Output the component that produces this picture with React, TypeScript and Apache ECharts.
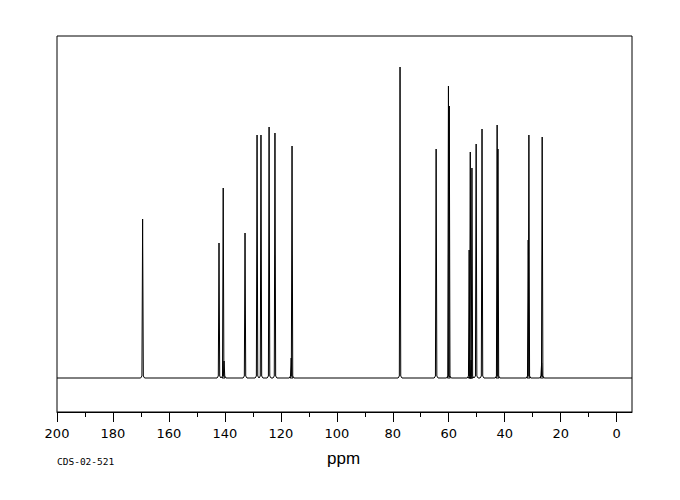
import React, { useEffect, useRef } from "react";
import * as echarts from "echarts";

// Peak positions (ppm) and intensities (arbitrary units, baseline = 0)
const peakPpm = [169.4, 142.1, 140.6, 140.3, 132.8, 128.5, 127.1, 124.2, 122.1, 116.3, 116.0, 77.4, 64.5, 60.1, 59.8, 52.7, 52.3, 52.0, 51.7, 50.2, 48.1, 42.7, 42.4, 31.6, 31.35, 26.8, 26.6];
const peakHeight = [159, 135, 190, 17, 145, 243, 243, 251, 245, 20, 232, 311, 229, 292, 272, 128, 226, 18, 210, 234, 249, 253, 229, 138, 243, 15, 241];
const majorTicks = [0, 20, 40, 60, 80, 100, 120, 140, 160, 180, 200];
const minorTicks = [10, 30, 50, 70, 90, 110, 130, 150, 170, 190];
const xMin = -5.5;
const xMax = 200;
const sampleId = "CDS-02-521";
const axisName = "ppm";

export default function App() {
  const ref = useRef<HTMLDivElement>(null);
  useEffect(() => {
    if (!ref.current) return;
    const chart = echarts.init(ref.current, null, { renderer: "svg" });
    const order = peakPpm.map((p, i) => i).sort((a, b) => peakPpm[b] - peakPpm[a]);
    const data: number[][] = [[xMax, 0]];
    order.forEach((i) => {
      const p = peakPpm[i];
      const h = peakHeight[i];
      data.push([p + 0.7, 0], [p + 0.25, 2], [p, h], [p - 0.25, 2], [p - 0.7, 0]);
    });
    data.push([xMin, 0]);
    chart.setOption({
      animation: false,
      backgroundColor: "#fff",
      grid: {
        left: 57,
        right: 48,
        top: 36,
        bottom: 88,
        show: true,
        borderColor: "#000",
        borderWidth: 1,
        containLabel: false,
        outerBoundsMode: "none",
      },
      xAxis: [
        {
          type: "value",
          inverse: true,
          min: xMin,
          max: xMax,
          position: "bottom",
          axisLine: { show: true, onZero: false, lineStyle: { color: "#000", width: 1 } },
          axisTick: { show: true, customValues: majorTicks, length: 10, inside: false, lineStyle: { color: "#000" } },
          axisLabel: {
            show: true,
            customValues: majorTicks,
            margin: 15,
            fontSize: 13,
            fontFamily: "DejaVu Sans",
            color: "#000",
          },
          splitLine: { show: false },
        },
        {
          type: "value",
          inverse: true,
          min: xMin,
          max: xMax,
          position: "bottom",
          axisLine: { show: false, onZero: false },
          axisTick: { show: true, customValues: minorTicks, length: 5, inside: false, lineStyle: { color: "#000" } },
          axisLabel: { show: false },
          splitLine: { show: false },
        },
      ],
      yAxis: { type: "value", min: -34, max: 342, show: false },
      series: [
        {
          type: "line",
          xAxisIndex: 0,
          data,
          showSymbol: false,
          symbol: "none",
          lineStyle: { color: "#000", width: 1 },
          silent: true,
        },
      ],
      graphic: [
        {
          type: "text",
          left: 57,
          top: 456,
          style: { text: sampleId, fontFamily: "DejaVu Sans Mono", fontSize: 9.5, fill: "#000" },
        },
        {
          type: "text",
          left: 327,
          top: 450,
          style: { text: axisName, fontFamily: "Liberation Sans", fontSize: 17, fill: "#000" },
        },
      ],
    });
    return () => chart.dispose();
  }, []);
  return <div ref={ref} style={{ position: "fixed", left: 0, top: 0, width: 680, height: 500 }} />;
}
